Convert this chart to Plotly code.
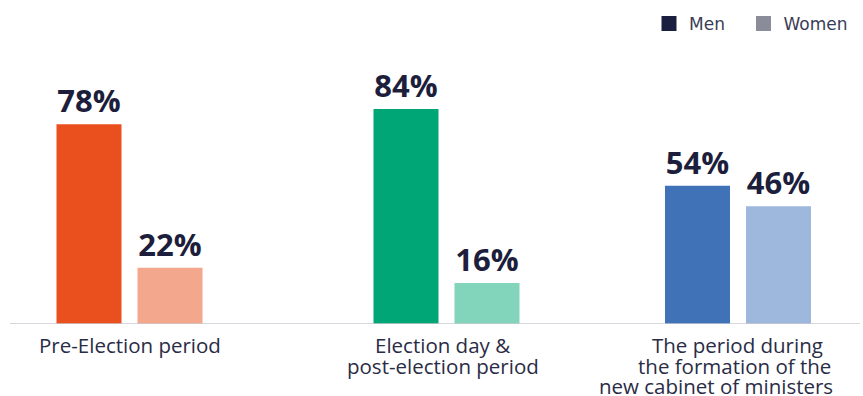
import plotly.graph_objects as go

# ---- data ----
categories = ["Pre-Election period",
              "Election day &<br>post-election period",
              "The period during<br>the formation of the<br>new cabinet of ministers"]
men = [78, 84, 54]
women = [22, 16, 46]
series_names = ["Men", "Women"]

# ---- styles / layout ----
men_colors = ["#EA501E", "#00A676", "#3F72B7"]
women_colors = ["#F3A78C", "#82D4BA", "#9EB8DD"]
legend_colors = ["#1B1F3F", "#8A8C99"]
legend_x_px = [649, 743.5]
text_color = "#1C1E3C"
group_centers = [129.5, 446.5, 738]
# horizontal shift (px) of each label line relative to its group centre
label_line_shifts = [[0], [-4, -4], [-1, -4, -22]]
bar_offset = 40.5
bar_width = 65
W, H = 863, 396
LABEL_SIZE = 20.5
FIRST_LINE_SHIFT = -21
LINE_STEP = 20.5

fig = go.Figure()
fig.add_trace(go.Bar(
    x=[c - bar_offset for c in group_centers], y=men, width=bar_width,
    marker=dict(color=men_colors, line=dict(width=0)),
    text=[f"{v}%" for v in men], textposition="outside", cliponaxis=False,
    textfont=dict(family="Open Sans", size=31, color=text_color, weight="bold"),
    showlegend=False, hoverinfo="skip"))
fig.add_trace(go.Bar(
    x=[c + bar_offset for c in group_centers], y=women, width=bar_width,
    marker=dict(color=women_colors, line=dict(width=0)),
    text=[f"{v}%" for v in women], textposition="outside", cliponaxis=False,
    textfont=dict(family="Open Sans", size=31, color=text_color, weight="bold"),
    showlegend=False, hoverinfo="skip"))

legend_ids = ["legend", "legend2"]
for name, col, lid in zip(series_names, legend_colors, legend_ids):
    fig.add_trace(go.Scatter(x=[None], y=[None], mode="markers", name=name,
                             legend=lid,
                             marker=dict(symbol="square", size=15, color=col)))

# axis baseline
fig.add_shape(type="line", xref="x", yref="y", x0=10, x1=860, y0=0, y1=0,
              line=dict(color="#C9C9D1", width=1.5), layer="above")

# category labels (one annotation per line)
label_font = dict(family="Open Sans", size=LABEL_SIZE, color="#2A2C45")
for cat, cx, shifts in zip(categories, group_centers, label_line_shifts):
    for i, (line, dx) in enumerate(zip(cat.split("<br>"), shifts)):
        fig.add_annotation(x=cx + dx, y=0, xref="x", yref="paper", text=line,
                           showarrow=False, xanchor="center", yanchor="middle",
                           yshift=FIRST_LINE_SHIFT - i * LINE_STEP, font=label_font)

legend_common = dict(orientation="h", xref="container", yref="container",
                     xanchor="left", y=0.985, yanchor="top",
                     font=dict(family="DejaVu Sans", size=17, color="#3A3C55"),
                     itemclick=False, bgcolor="rgba(0,0,0,0)")

fig.update_layout(
    width=W, height=H,
    margin=dict(l=0, r=0, t=68, b=72),
    plot_bgcolor="white", paper_bgcolor="white",
    xaxis=dict(range=[0, W], visible=False, fixedrange=True),
    yaxis=dict(range=[0, 100], visible=False, fixedrange=True),
    showlegend=True,
    legend=dict(x=legend_x_px[0] / W, **legend_common),
    legend2=dict(x=legend_x_px[1] / W, **legend_common),
)

fig.write_html("out.html")
